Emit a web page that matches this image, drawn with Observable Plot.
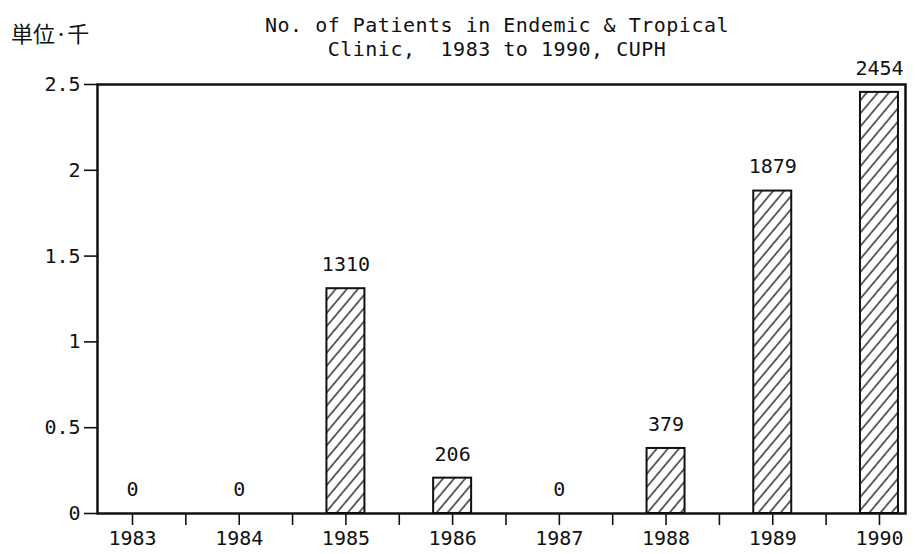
<!DOCTYPE html>
<html><head><meta charset="utf-8">
<script src="https://cdn.jsdelivr.net/npm/d3@7"></script>
<script src="https://cdn.jsdelivr.net/npm/@observablehq/plot@0.6"></script>
<style>
body{margin:0;background:#fff;}
#wrap{position:relative;width:915px;height:554px;overflow:hidden;background:#fff;}
#wrap svg{position:absolute;left:0;top:0;}
.t{position:absolute;left:0;width:994px;text-align:center;font-family:"DejaVu Sans Mono",monospace;font-size:20px;line-height:20px;color:#111;white-space:pre;letter-spacing:0.5px;}
#unit{position:absolute;left:11px;top:21px;font-family:"Noto Sans CJK JP",sans-serif;font-size:22px;line-height:22px;color:#111;white-space:pre;}
</style></head><body>
<div id="wrap"></div>
<script>
const years = [1983, 1984, 1985, 1986, 1987, 1988, 1989, 1990];
const patients = [0, 0, 1310, 206, 0, 379, 1879, 2454];
const yTicks = [0, 0.5, 1, 1.5, 2, 2.5];
const titleLines = ["No. of Patients in Endemic & Tropical", "Clinic,  1983 to 1990, CUPH"];
const unitLabel = "単位·千";

const data = years.map((year, i) => ({year, n: patients[i], k: patients[i] / 1000}));
const xTicks = years.flatMap((y, i) => i < years.length - 1 ? [y, y + 0.5] : [y]);
const halfBar = 0.178;

const chart = Plot.plot({
  width: 915, height: 554,
  marginLeft: 97, marginRight: 10, marginTop: 84, marginBottom: 41,
  style: {fontFamily: "'DejaVu Sans Mono', monospace", fontSize: "20px", color: "#111", background: "transparent"},
  x: {domain: [1982.672, 1990.244], ticks: xTicks, tickFormat: d => Number.isInteger(d) ? String(d) : "", tickSize: 12, tickPadding: 5, label: null},
  y: {domain: [0, 2.5], ticks: yTicks, tickFormat: d => String(d), tickSize: 13, tickPadding: 4, label: null},
  marks: [
    Plot.rectY(data, {x1: d => d.year - halfBar, x2: d => d.year + halfBar, y: "k", fill: "white", stroke: "#111", strokeWidth: 2}),
    Plot.text(data, {x: "year", y: "k", text: d => String(d.n), dy: -24, fontSize: 20}),
    Plot.frame({stroke: "#111", strokeWidth: 2.5})
  ]
});

const svg = d3.select(chart.tagName.toLowerCase() === "svg" ? chart : chart.querySelector("svg"));
const defs = svg.insert("defs", ":first-child");
const pat = defs.append("pattern").attr("id", "hatch").attr("patternUnits", "userSpaceOnUse")
  .attr("width", 8.5).attr("height", 8.5).attr("patternTransform", "rotate(40)");
pat.append("rect").attr("width", 8.5).attr("height", 8.5).attr("fill", "white");
pat.append("line").attr("x1", 1).attr("y1", 0).attr("x2", 1).attr("y2", 8.5).attr("stroke", "#111").attr("stroke-width", 1.3);
svg.selectAll('g[aria-label="rect"] rect').attr("fill", "url(#hatch)");
svg.selectAll('g[aria-label="x-axis tick"] path, g[aria-label="y-axis tick"] path').attr("stroke-width", 1.6);

const wrap = document.getElementById("wrap");
wrap.appendChild(chart);
titleLines.forEach((line, i) => {
  const d = document.createElement("div");
  d.className = "t";
  d.style.top = (15 + i * 24) + "px";
  d.textContent = line;
  wrap.appendChild(d);
});
const u = document.createElement("div");
u.id = "unit";
u.textContent = unitLabel;
wrap.appendChild(u);
</script>
</body></html>
